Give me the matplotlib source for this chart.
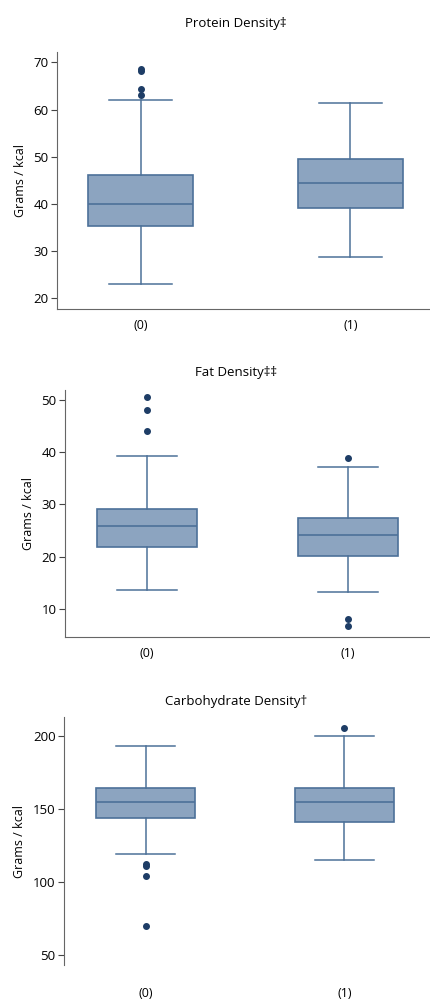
import matplotlib
matplotlib.use("Agg")
import matplotlib.pyplot as plt

plt.rcParams['font.family'] = ['Open Sans', 'DejaVu Sans']

groups = ["(0)", "(1)"]
titles = ["Protein Density\u2021", "Fat Density\u2021\u2021", "Carbohydrate Density\u2020"]
ylabel = "Grams / kcal"

protein_q1 = [35.3, 39.2]
protein_med = [40.0, 44.5]
protein_q3 = [46.1, 49.6]
protein_lo = [23.0, 28.7]
protein_hi = [62.0, 61.3]
protein_fliers = [[68.6, 68.2, 64.3, 63.0], []]

fat_q1 = [21.8, 20.2]
fat_med = [25.8, 24.1]
fat_q3 = [29.2, 27.4]
fat_lo = [13.6, 13.3]
fat_hi = [39.2, 37.1]
fat_fliers = [[50.5, 48.0, 44.0], [38.9, 8.0, 6.7]]

carb_q1 = [144.0, 141.0]
carb_med = [155.0, 155.0]
carb_q3 = [164.0, 164.5]
carb_lo = [119.0, 115.0]
carb_hi = [193.0, 200.0]
carb_fliers = [[112.5, 111.0, 104.0, 70.0], [205.0]]

protein_ticks = [20, 30, 40, 50, 60, 70]
fat_ticks = [10, 20, 30, 40, 50]
carb_ticks = [50, 100, 150, 200]

W, H = 430, 1001
fig = plt.figure(figsize=(W / 100, H / 100), dpi=100)

FILL = "#8ca4c0"
EDGE = "#4d7199"
FLIER = "#1e3d66"


def px_axes(left, top, right, bottom):
    return fig.add_axes([left / W, 1 - bottom / H, (right - left) / W, (bottom - top) / H])


def panel(ax, q1, med, q3, lo, hi, fliers, ticks, ylim, xlim, title, title_y, show_bottom, xlabel_pad):
    stats = []
    for i in range(len(groups)):
        stats.append(dict(q1=q1[i], med=med[i], q3=q3[i], whislo=lo[i], whishi=hi[i],
                          fliers=fliers[i], label=groups[i]))
    ax.bxp(stats, positions=range(len(groups)), widths=0.5, capwidths=0.3, patch_artist=True,
           boxprops=dict(facecolor=FILL, edgecolor=EDGE, linewidth=1.2),
           medianprops=dict(color=EDGE, linewidth=1.2),
           whiskerprops=dict(color=EDGE, linewidth=1.1),
           capprops=dict(color=EDGE, linewidth=1.1),
           flierprops=dict(marker='o', markersize=4, markerfacecolor=FLIER, markeredgecolor=FLIER))
    ax.set_ylim(*ylim)
    ax.set_xlim(*xlim)
    ax.set_yticks(ticks)
    ax.set_xticks(range(len(groups)))
    ax.set_xticklabels(groups)
    for s in ['top', 'right']:
        ax.spines[s].set_visible(False)
    ax.spines['bottom'].set_visible(show_bottom)
    ax.spines['left'].set_color("#666666")
    ax.spines['bottom'].set_color("#666666")
    ax.tick_params(axis='x', length=0, pad=xlabel_pad, labelsize=9)
    ax.tick_params(axis='y', length=4, width=0.8, color="#444444", labelsize=9.5, pad=2)
    ax.set_ylabel(ylabel, fontsize=9, labelpad=5)
    fig.text(236 / W, 1 - title_y / H, title, ha='center', va='center', fontsize=9.5)


ax1 = px_axes(57, 52, 430, 309)
panel(ax1, protein_q1, protein_med, protein_q3, protein_lo, protein_hi, protein_fliers,
      protein_ticks, (17.7, 72.2), (-0.4, 1.38), titles[0], 24, True, 7)

ax2 = px_axes(65, 390, 430, 637)
panel(ax2, fat_q1, fat_med, fat_q3, fat_lo, fat_hi, fat_fliers,
      fat_ticks, (4.6, 51.9), (-0.41, 1.41), titles[1], 372, True, 7)

ax3 = px_axes(64, 717, 430, 965)
panel(ax3, carb_q1, carb_med, carb_q3, carb_lo, carb_hi, carb_fliers,
      carb_ticks, (43.2, 212.8), (-0.41, 1.43), titles[2], 701, False, 16)

fig.savefig("out.png", dpi=100, facecolor="white")
